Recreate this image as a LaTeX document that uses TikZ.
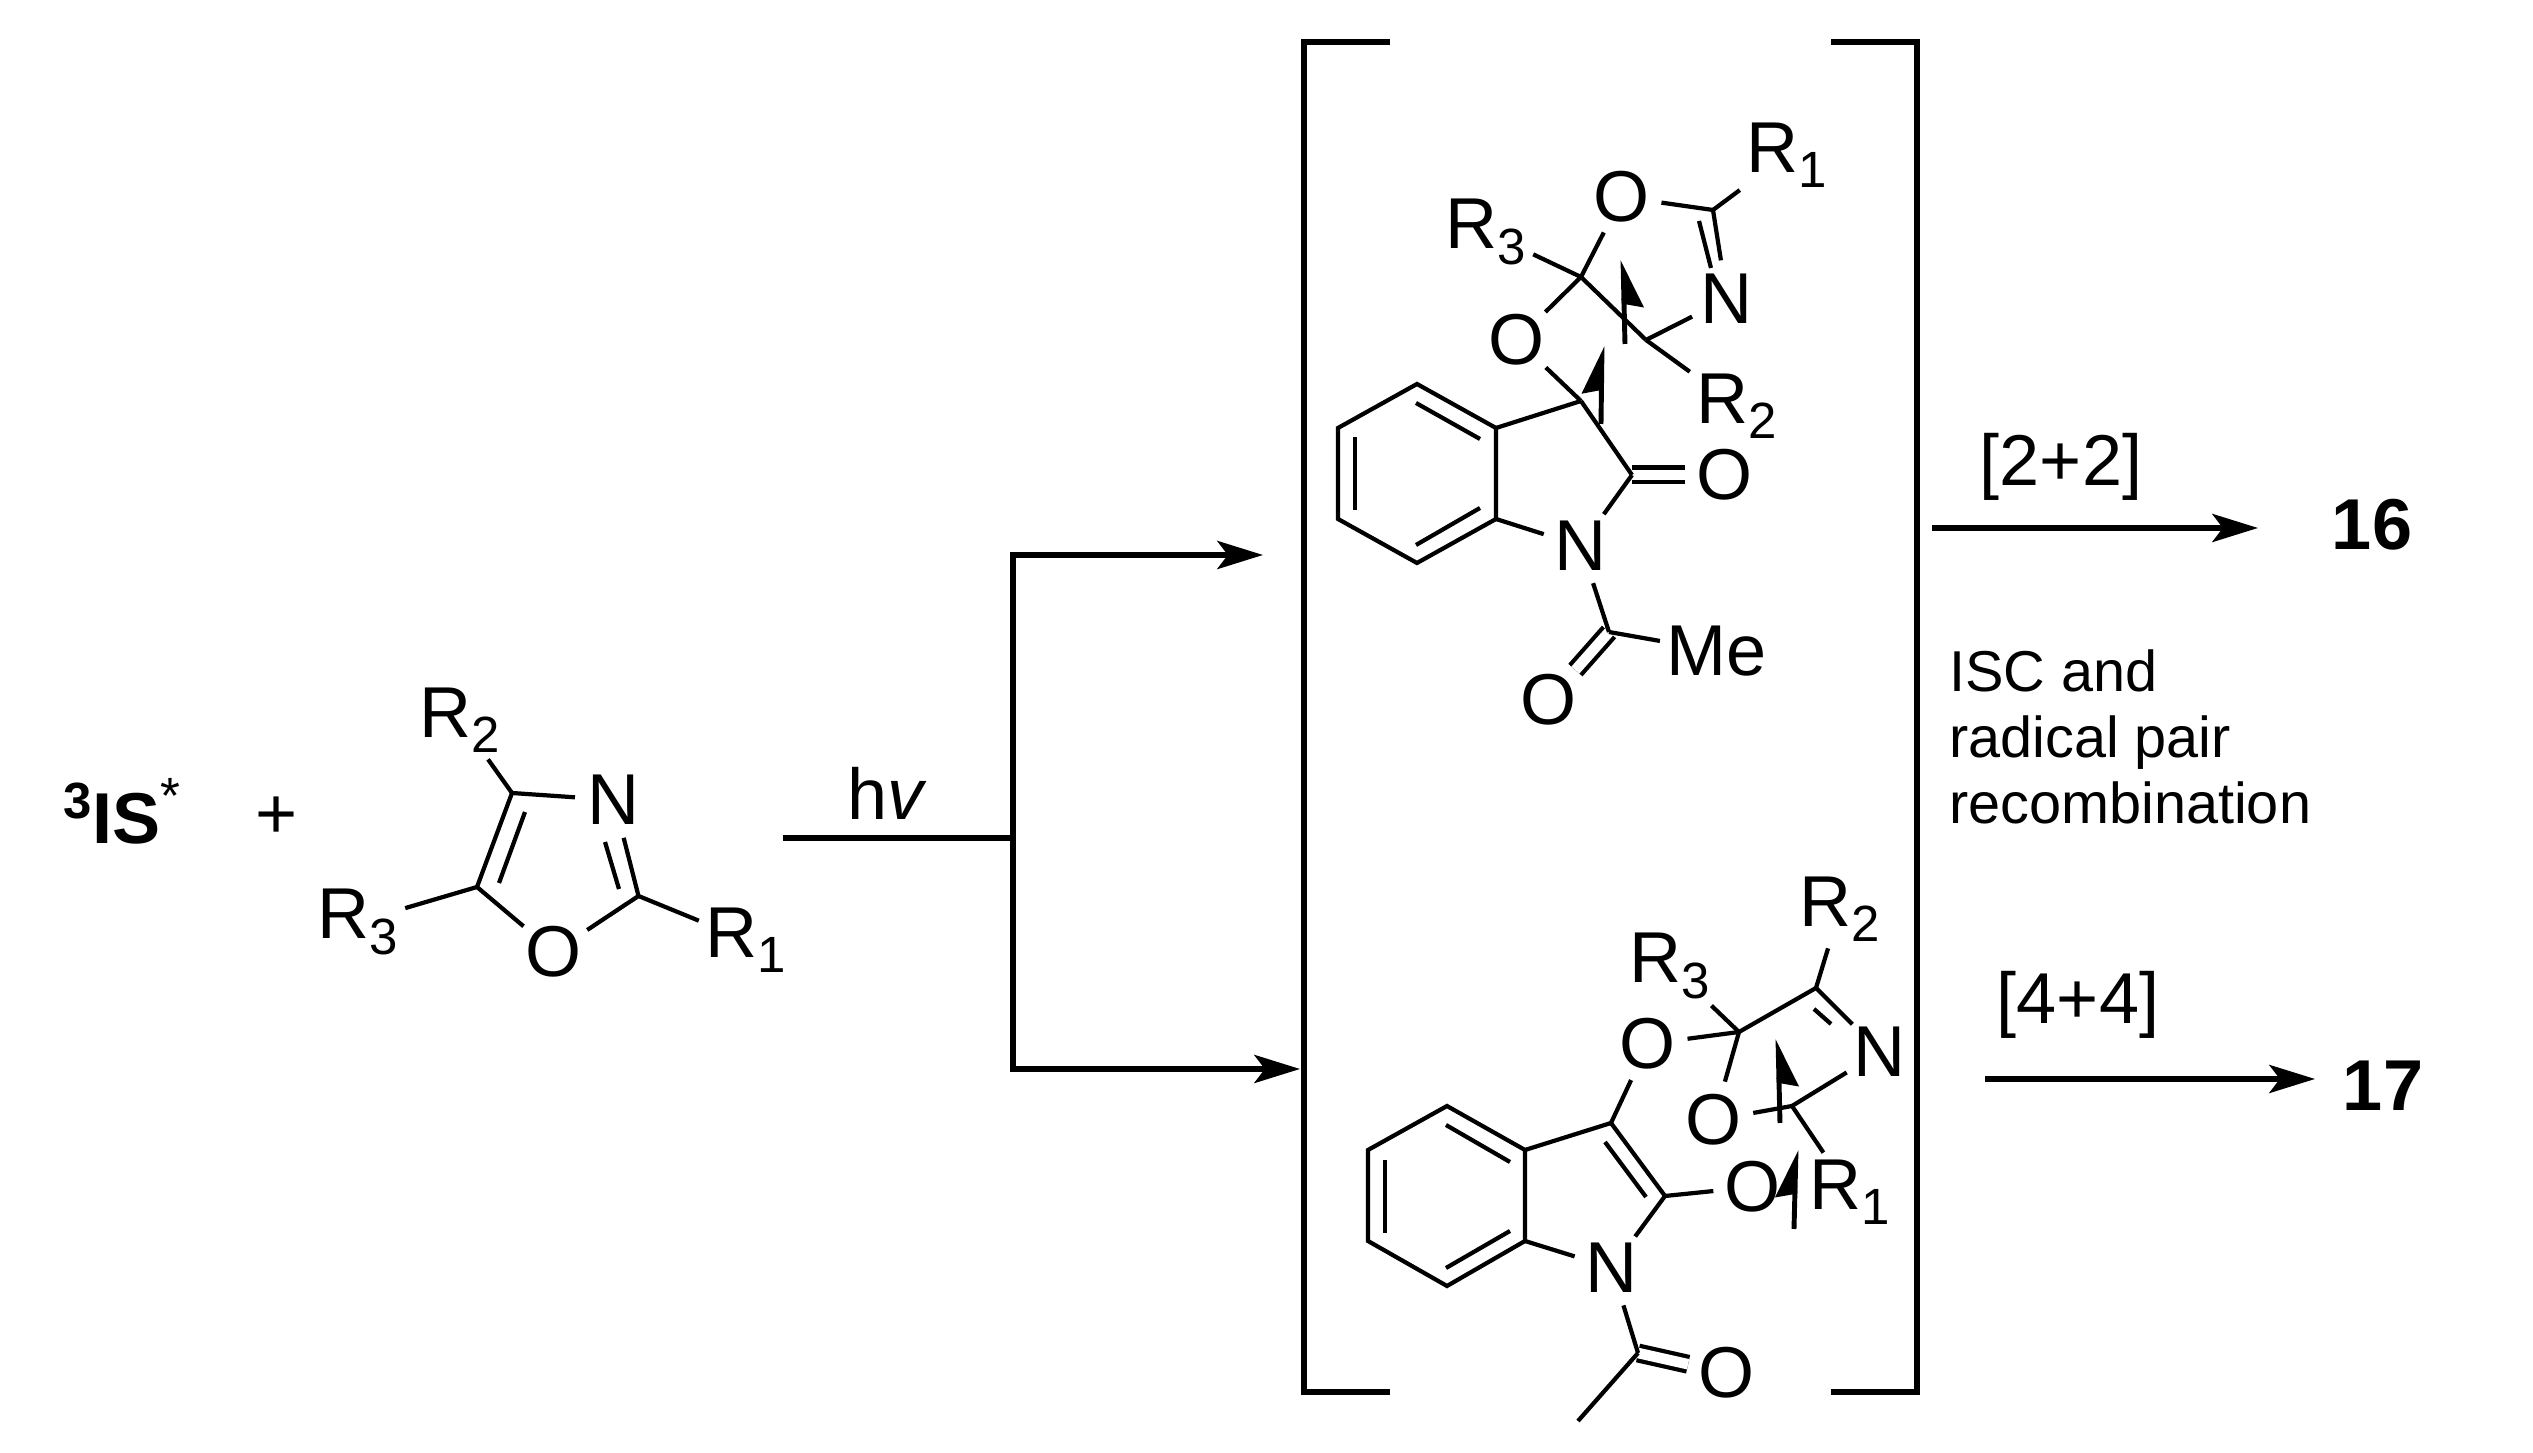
\documentclass[tikz,border=0pt]{standalone}
\usepackage{fontspec}
\setmainfont{Liberation Sans}
\usetikzlibrary{positioning,arrows.meta}

\newcommand{\rgrp}[1]{R\raisebox{-.21em}{\fontsize{14.5}{14.5}\selectfont #1}}

\tikzset{
    label font/.style={font=\fontsize{20.5}{24}\selectfont},
    atom/.style={circle,anchor=center,inner sep=0pt,minimum size=.74cm,label font},
    grp/.style={anchor=center,inner sep=0pt,outer sep=2pt,label font},
    dbl/.style={double,double distance=3pt},
    rxn/.style={line width=1.5pt,-{Stealth[length=13pt,width=8pt,inset=3pt]}},
    hookr/.style={-{Stealth[length=12pt,width=11pt,inset=1pt,harpoon,swap]},line width=1.4pt},
    hookl/.style={-{Stealth[length=12pt,width=11pt,inset=1pt,harpoon]},line width=1.4pt}
}

\begin{document}
\begin{tikzpicture}[on grid,line width=1.2pt]
            \useasboundingbox (0,0) rectangle (25.33,-14.53);

            % reactants
            \node (is) [grp,outer sep=0pt] at (1.22,-8.11) {\raisebox{.34em}{\fontsize{14.5}{14.5}\selectfont\bfseries 3}\textbf{IS}\raisebox{.42em}{\fontsize{14.5}{14.5}\selectfont *}};
            \node (plus) [below right=.07cm and 1.55cm of is,grp] {+};
            \coordinate [above right=.25cm and 2.35cm of plus] (ox4);
            \coordinate [below left=.94cm and .35cm of ox4] (ox5);
            \coordinate [below right=.09cm and 1.615cm of ox5] (ox2);
            \node (oxn) [below right=.07cm and 1.02cm of ox4,atom] {N};
            \node (oxo) [below right=.65cm and .77cm of ox5,atom] {O};
            \node (oxr2) [above left=.73cm and .52cm of ox4,grp] {\rgrp{2}};
            \node (oxr3) [below left=.35cm and 1.19cm of ox5,grp] {\rgrp{3}};
            \node (oxr1) [below right=.44cm and 1.075cm of ox2,grp] {\rgrp{1}};
            \coordinate [below right=.19cm and .13cm of ox4] (oxa);
            \coordinate [above right=.04cm and .22cm of ox5] (oxb);
            \coordinate [above left=.07cm and .195cm of ox2] (oxc);
            \coordinate [below left=.42cm and .09cm of oxn] (oxd);

            \draw (ox4) -- (ox5);
            \draw (oxa) -- (oxb);
            \draw (ox4) -- (oxn);
            \draw (ox5) -- (oxo);
            \draw (oxo) -- (ox2);
            \draw (ox2) -- (oxn);
            \draw (oxc) -- (oxd);
            \draw (ox4) -- (oxr2);
            \draw (ox5) -- (oxr3);
            \draw (ox2) -- (oxr1);

            % branching arrows
            \coordinate (st) at (7.83,-8.38);
            \coordinate [right=2.30cm of st] (jn);
            \coordinate [above=2.83cm of jn] (up0);
            \coordinate [below=2.31cm of jn] (low0);
            \coordinate [right=2.50cm of up0] (up1);
            \coordinate [right=2.87cm of low0] (low1);
            \node (hv) [above right=.45cm and 1.04cm of st,grp] {h\textit{v}};

            \draw [line width=1.5pt] (st) -- (jn);
            \draw [rxn] (low0) -- (up0) -- (up1);
            \draw [rxn] (jn) -- (low0) -- (low1);

            % brackets
            \coordinate (lb1) at (13.90,-.42);
            \coordinate [left=.86cm of lb1] (lb2);
            \coordinate [below=13.50cm of lb2] (lb3);
            \coordinate [right=.86cm of lb3] (lb4);
            \coordinate [right=4.41cm of lb1] (rb1);
            \coordinate [right=.86cm of rb1] (rb2);
            \coordinate [below=13.50cm of rb2] (rb3);
            \coordinate [left=.86cm of rb3] (rb4);

            \draw [line width=1.5pt] (lb1) -- (lb2) -- (lb3) -- (lb4);
            \draw [line width=1.5pt] (rb1) -- (rb2) -- (rb3) -- (rb4);

            % upper intermediate
            \coordinate (tb1) at (14.17,-3.84);
            \coordinate [below left=.44cm and .79cm of tb1] (tb2);
            \coordinate [below=.91cm of tb2] (tb3);
            \coordinate [below right=.44cm and .79cm of tb3] (tb4);
            \coordinate [above right=.44cm and .79cm of tb4] (tb5);
            \coordinate [above=.91cm of tb5] (tb6);
            \coordinate [above right=.27cm and .85cm of tb6] (tc3);
            \coordinate [below right=.74cm and .51cm of tc3] (tc2);
            \node (tn1) [below left=.71cm and .51cm of tc2,atom] {N};
            \node (to1) [right=.93cm of tc2,atom] {O};
            \coordinate [below right=.86cm and .28cm of tn1] (tca);
            \node (tme) [below right=.19cm and 1.08cm of tca,grp] {Me};
            \node (to2) [below left=.68cm and .60cm of tca,atom] {O};
            \node (to3) [above left=.61cm and .64cm of tc3,atom] {O};
            \coordinate [above=1.24cm of tc3] (tck);
            \node (to4) [above right=.80cm and .41cm of tck,atom] {O};
            \node (tr3) [above left=.45cm and .95cm of tck,grp] {\rgrp{3}};
            \coordinate [below right=.63cm and .65cm of tck] (tcq);
            \node (tn2) [above right=.41cm and .81cm of tcq,atom] {N};
            \node (tr2) [below right=.66cm and .91cm of tcq,grp] {\rgrp{2}};
            \coordinate [below right=.13cm and .91cm of to4] (tcn);
            \node (tr1) [above right=.55cm and .74cm of tcn,grp] {\rgrp{1}};
            \coordinate [below left=.19cm and .01cm of tb1] (ti1);
            \coordinate [below left=.11cm and .16cm of tb6] (ti2);
            \coordinate [below right=.09cm and .17cm of tb2] (ti3);
            \coordinate [above right=.09cm and .17cm of tb3] (ti4);
            \coordinate [above left=.18cm and .01cm of tb4] (ti5);
            \coordinate [above left=.11cm and .16cm of tb5] (ti6);
            \coordinate [below left=.11cm and .14cm of tcn] (ti7);
            \coordinate [above left=.31cm and .16cm of tn2] (ti8);
            \coordinate [below left=.04cm and .21cm of tcq] (ta1);
            \coordinate [above left=.80cm and .23cm of tcq] (ta2);
            \coordinate [below right=.23cm and .20cm of tc3] (ta3);
            \coordinate [above right=.55cm and .21cm of tc3] (ta4);

            \draw [dbl] (tc2) -- (to1);
            \draw [dbl] (tca) -- (to2);
            \draw (tb1) -- (tb2) -- (tb3) -- (tb4) -- (tb5) -- (tb6) -- cycle;
            \draw (ti1) -- (ti2);
            \draw (ti3) -- (ti4);
            \draw (ti5) -- (ti6);
            \draw (tb5) -- (tn1);
            \draw (tb6) -- (tc3);
            \draw (tc3) -- (tc2);
            \draw (tc2) -- (tn1);
            \draw (tn1) -- (tca);
            \draw (tca) -- (tme);
            \draw (tc3) -- (to3);
            \draw (to3) -- (tck);
            \draw (tck) -- (to4);
            \draw (tck) -- (tr3);
            \draw (tck) -- (tcq);
            \draw (tcq) -- (tn2);
            \draw (tcq) -- (tr2);
            \draw (to4) -- (tcn);
            \draw (tcn) -- (tn2);
            \draw (ti7) -- (ti8);
            \draw (tcn) -- (tr1);
            \draw [hookr] (ta1) -- (ta2);
            \draw [hookl] (ta3) -- (ta4);

            % lower intermediate
            \coordinate (bb1) at (14.47,-11.06);
            \coordinate [below left=.44cm and .79cm of bb1] (bb2);
            \coordinate [below=.91cm of bb2] (bb3);
            \coordinate [below right=.45cm and .79cm of bb3] (bb4);
            \coordinate [above right=.45cm and .78cm of bb4] (bb5);
            \coordinate [above=.91cm of bb5] (bb6);
            \coordinate [above right=.27cm and .86cm of bb6] (bc3);
            \coordinate [below right=.73cm and .54cm of bc3] (bc2);
            \node (bo1) [above right=.79cm and .37cm of bc3,atom] {O};
            \node (bo2) [above right=.09cm and .88cm of bc2,atom] {O};
            \node (bn1) [below left=.72cm and .53cm of bc2,atom] {N};
            \coordinate [below right=.85cm and .26cm of bn1] (bca);
            \node (bo3) [below right=.20cm and .89cm of bca,atom] {O};
            \coordinate [below left=.68cm and .60cm of bca] (bme);
            \coordinate [above right=.12cm and .91cm of bo1] (bck);
            \node (br3) [above left=.66cm and .69cm of bck,grp] {\rgrp{3}};
            \node (bo4) [below left=.88cm and .25cm of bck,atom] {O};
            \coordinate [above right=.44cm and .77cm of bck] (bcm);
            \node (br2) [above right=.79cm and .24cm of bcm,grp] {\rgrp{2}};
            \node (bn2) [below right=.64cm and .64cm of bcm,atom] {N};
            \coordinate [below left=1.18cm and .24cm of bcm] (bcq);
            \node (br1) [below right=.86cm and .58cm of bcq,grp] {\rgrp{1}};
            \coordinate [below left=.19cm and .01cm of bb1] (bi1);
            \coordinate [below left=.12cm and .15cm of bb6] (bi2);
            \coordinate [below right=.10cm and .17cm of bb2] (bi3);
            \coordinate [above right=.08cm and .17cm of bb3] (bi4);
            \coordinate [above left=.18cm and .01cm of bb4] (bi5);
            \coordinate [above left=.10cm and .15cm of bb5] (bi6);
            \coordinate [below left=.19cm and .06cm of bc3] (bi7);
            \coordinate [below left=.01cm and .19cm of bc2] (bi8);
            \coordinate [below left=.21cm and .02cm of bcm] (bi9);
            \coordinate [above left=.28cm and .49cm of bn2] (bi10);
            \coordinate [below left=.17cm and .12cm of bcq] (ba1);
            \coordinate [above left=.67cm and .14cm of bcq] (ba2);
            \coordinate [below right=1.23cm and .02cm of bcq] (ba3);
            \coordinate [below right=.44cm and .04cm of bcq] (ba4);

            \draw [dbl] (bca) -- (bo3);
            \draw (bb1) -- (bb2) -- (bb3) -- (bb4) -- (bb5) -- (bb6) -- cycle;
            \draw (bi1) -- (bi2);
            \draw (bi3) -- (bi4);
            \draw (bi5) -- (bi6);
            \draw (bb5) -- (bn1);
            \draw (bb6) -- (bc3);
            \draw (bc3) -- (bc2);
            \draw (bi7) -- (bi8);
            \draw (bc3) -- (bo1);
            \draw (bc2) -- (bo2);
            \draw (bc2) -- (bn1);
            \draw (bn1) -- (bca);
            \draw (bca) -- (bme);
            \draw (bo1) -- (bck);
            \draw (bck) -- (br3);
            \draw (bck) -- (bo4);
            \draw (bck) -- (bcm);
            \draw (bcm) -- (br2);
            \draw (bcm) -- (bn2);
            \draw (bi9) -- (bi10);
            \draw (bcq) -- (bn2);
            \draw (bcq) -- (bo4);
            \draw (bcq) -- (br1);
            \draw [hookr] (ba1) -- (ba2);
            \draw [hookl] (ba3) -- (ba4);

            % products
            \coordinate (p1) at (19.32,-5.28);
            \coordinate [right=3.26cm of p1] (p2);
            \node (l22) [above right=.61cm and 1.29cm of p1,grp] {[2+2]};
            \node (n16) [above right=.03cm and 1.14cm of p2,grp] {\textbf{16}};
            \node (isc) [anchor=west,align=left,inner sep=0pt,font=\fontsize{16.4}{18.8}\selectfont] at (19.47,-7.37) {ISC and\\radical pair\\recombination};
            \coordinate (p3) at (19.85,-10.79);
            \coordinate [right=3.30cm of p3] (p4);
            \node (l44) [above right=.74cm and .93cm of p3,grp] {[4+4]};
            \node (n17) [below right=.07cm and .68cm of p4,grp] {\textbf{17}};

            \draw [rxn] (p1) -- (p2);
            \draw [rxn] (p3) -- (p4);
        \end{tikzpicture}
\end{document}
